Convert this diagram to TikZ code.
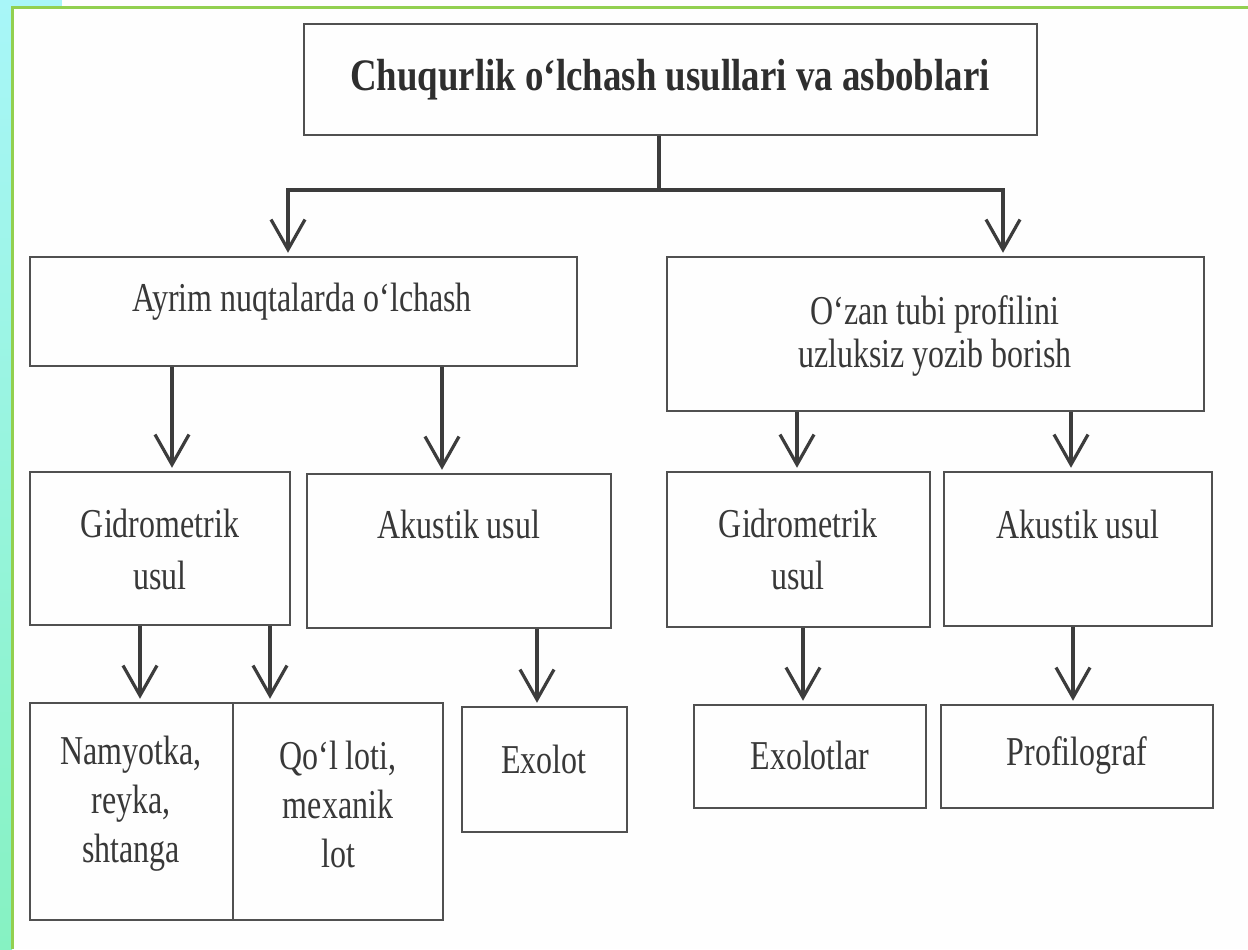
\documentclass[tikz,border=0pt]{standalone}
\usepackage{fontspec}
\setmainfont{Liberation Serif}[FakeStretch=0.78]
\newfontfamily\titlefont{Liberation Serif}[FakeStretch=0.82]
\usetikzlibrary{arrows.meta}
\definecolor{bordergreen}{HTML}{92D050}
\definecolor{leftcyan}{HTML}{A8F6F8}
\definecolor{leftmint}{HTML}{86F2C2}
\definecolor{boxline}{HTML}{505050}
\definecolor{arrline}{HTML}{3C3C3C}
\definecolor{txt}{HTML}{383838}
\tikzset{
  box/.style={draw=boxline, line width=1.25pt, inner sep=0pt, rectangle},
  lbl/.style={text=txt, align=center, inner sep=0pt, font=\fontsize{20.5}{26}\selectfont},
  arr/.style={draw=arrline, line width=1.6pt, -{Straight Barb[length=15pt,width=17pt,line width=1.6pt]}, shorten >=1.5pt},
  conn/.style={draw=arrline, line width=1.6pt}
}
\newcommand\mybox[5]{\node[box,minimum width={(#4-#2)*0.5pt},minimum height={(#5-#3)*0.5pt}] (#1) at ({(#2+#4)/2},{(#3+#5)/2}) {};}
\begin{document}
\begin{tikzpicture}[x=0.5pt,y=-0.5pt]
\useasboundingbox (0,0) rectangle (1248,949);
% background
\fill[white!99!gray] (0,0) rectangle (1248,949);
\shade[top color=leftcyan, bottom color=leftmint] (0,0) rectangle (12,949);
\fill[leftcyan] (0,0) rectangle (62,7);
\draw[bordergreen, line width=1.5pt] (12,949) -- (12,7) -- (1248,7);
% boxes
\mybox{top}{304}{24}{1037}{135}
\mybox{ayrim}{30}{257}{577}{366}
\mybox{ozan}{667}{257}{1204}{411}
\mybox{gidL}{30}{472}{290}{625}
\mybox{akuL}{307}{474}{611}{628}
\mybox{gidR}{667}{472}{930}{627}
\mybox{akuR}{944}{472}{1212}{626}
\mybox{namy}{30}{703}{233}{920}
\mybox{qol}{233}{703}{443}{920}
\mybox{exolot}{462}{707}{627}{832}
\mybox{exolotlar}{694}{705}{926}{808}
\mybox{profil}{941}{705}{1213}{808}
% texts
\node[lbl, text=black!82, font=\titlefont\bfseries\fontsize{22.5}{27}\selectfont] (ttop) at (670,80) {Chuqurlik o‘lchash usullari va asboblari};
\node[lbl] (tayrim) at (302,302) {Ayrim nuqtalarda o‘lchash};
\node[lbl, font=\fontsize{20.5}{21.5}\selectfont] (tozan) at (935,336) {O‘zan tubi profilini\\uzluksiz yozib borish};
\node[lbl] (tgidL) at (160,549) {Gidrometrik\\usul};
\node[lbl] (takuL) at (459,524) {Akustik usul};
\node[lbl] (tgidR) at (798,549) {Gidrometrik\\usul};
\node[lbl] (takuR) at (1078,524) {Akustik usul};
\node[lbl, font=\fontsize{20.5}{24.5}\selectfont] (tnamy) at (131,804) {Namyotka,\\reyka,\\shtanga};
\node[lbl, font=\fontsize{20.5}{24.5}\selectfont] (tqol) at (338,804) {Qo‘l loti,\\mexanik\\lot};
\node[lbl] (texolot) at (544,759) {Exolot};
\node[lbl] (texolotlar) at (810,755) {Exolotlar};
\node[lbl] (tprofil) at (1077,755) {Profilograf};
% connector helper coordinates
\coordinate (stem) at (659,0);
\coordinate (jl) at (288,190);
\coordinate (jr) at (1003,190);
\coordinate (xa) at (172,0);
\coordinate (xb) at (442,0);
\coordinate (xc) at (797,0);
\coordinate (xd) at (1071,0);
\coordinate (xe) at (140,0);
\coordinate (xf) at (270,0);
\coordinate (xg) at (537,0);
\coordinate (xh) at (803,0);
\coordinate (xi) at (1073,0);
% connectors
\draw[conn] (top.south -| stem) -- (stem |- jl);
\draw[arr] (stem |- jl) -| (jl) -- (jl |- ayrim.north);
\draw[arr] (stem |- jr) -| (jr) -- (jr |- ozan.north);
\draw[arr] (ayrim.south -| xa) -- (gidL.north -| xa);
\draw[arr] (ayrim.south -| xb) -- (akuL.north -| xb);
\draw[arr] (ozan.south -| xc) -- (gidR.north -| xc);
\draw[arr] (ozan.south -| xd) -- (akuR.north -| xd);
\draw[arr] (gidL.south -| xe) -- (namy.north -| xe);
\draw[arr] (gidL.south -| xf) -- (qol.north -| xf);
\draw[arr] (akuL.south -| xg) -- (exolot.north -| xg);
\draw[arr] (gidR.south -| xh) -- (exolotlar.north -| xh);
\draw[arr] (akuR.south -| xi) -- (profil.north -| xi);
\end{tikzpicture}
\end{document}
